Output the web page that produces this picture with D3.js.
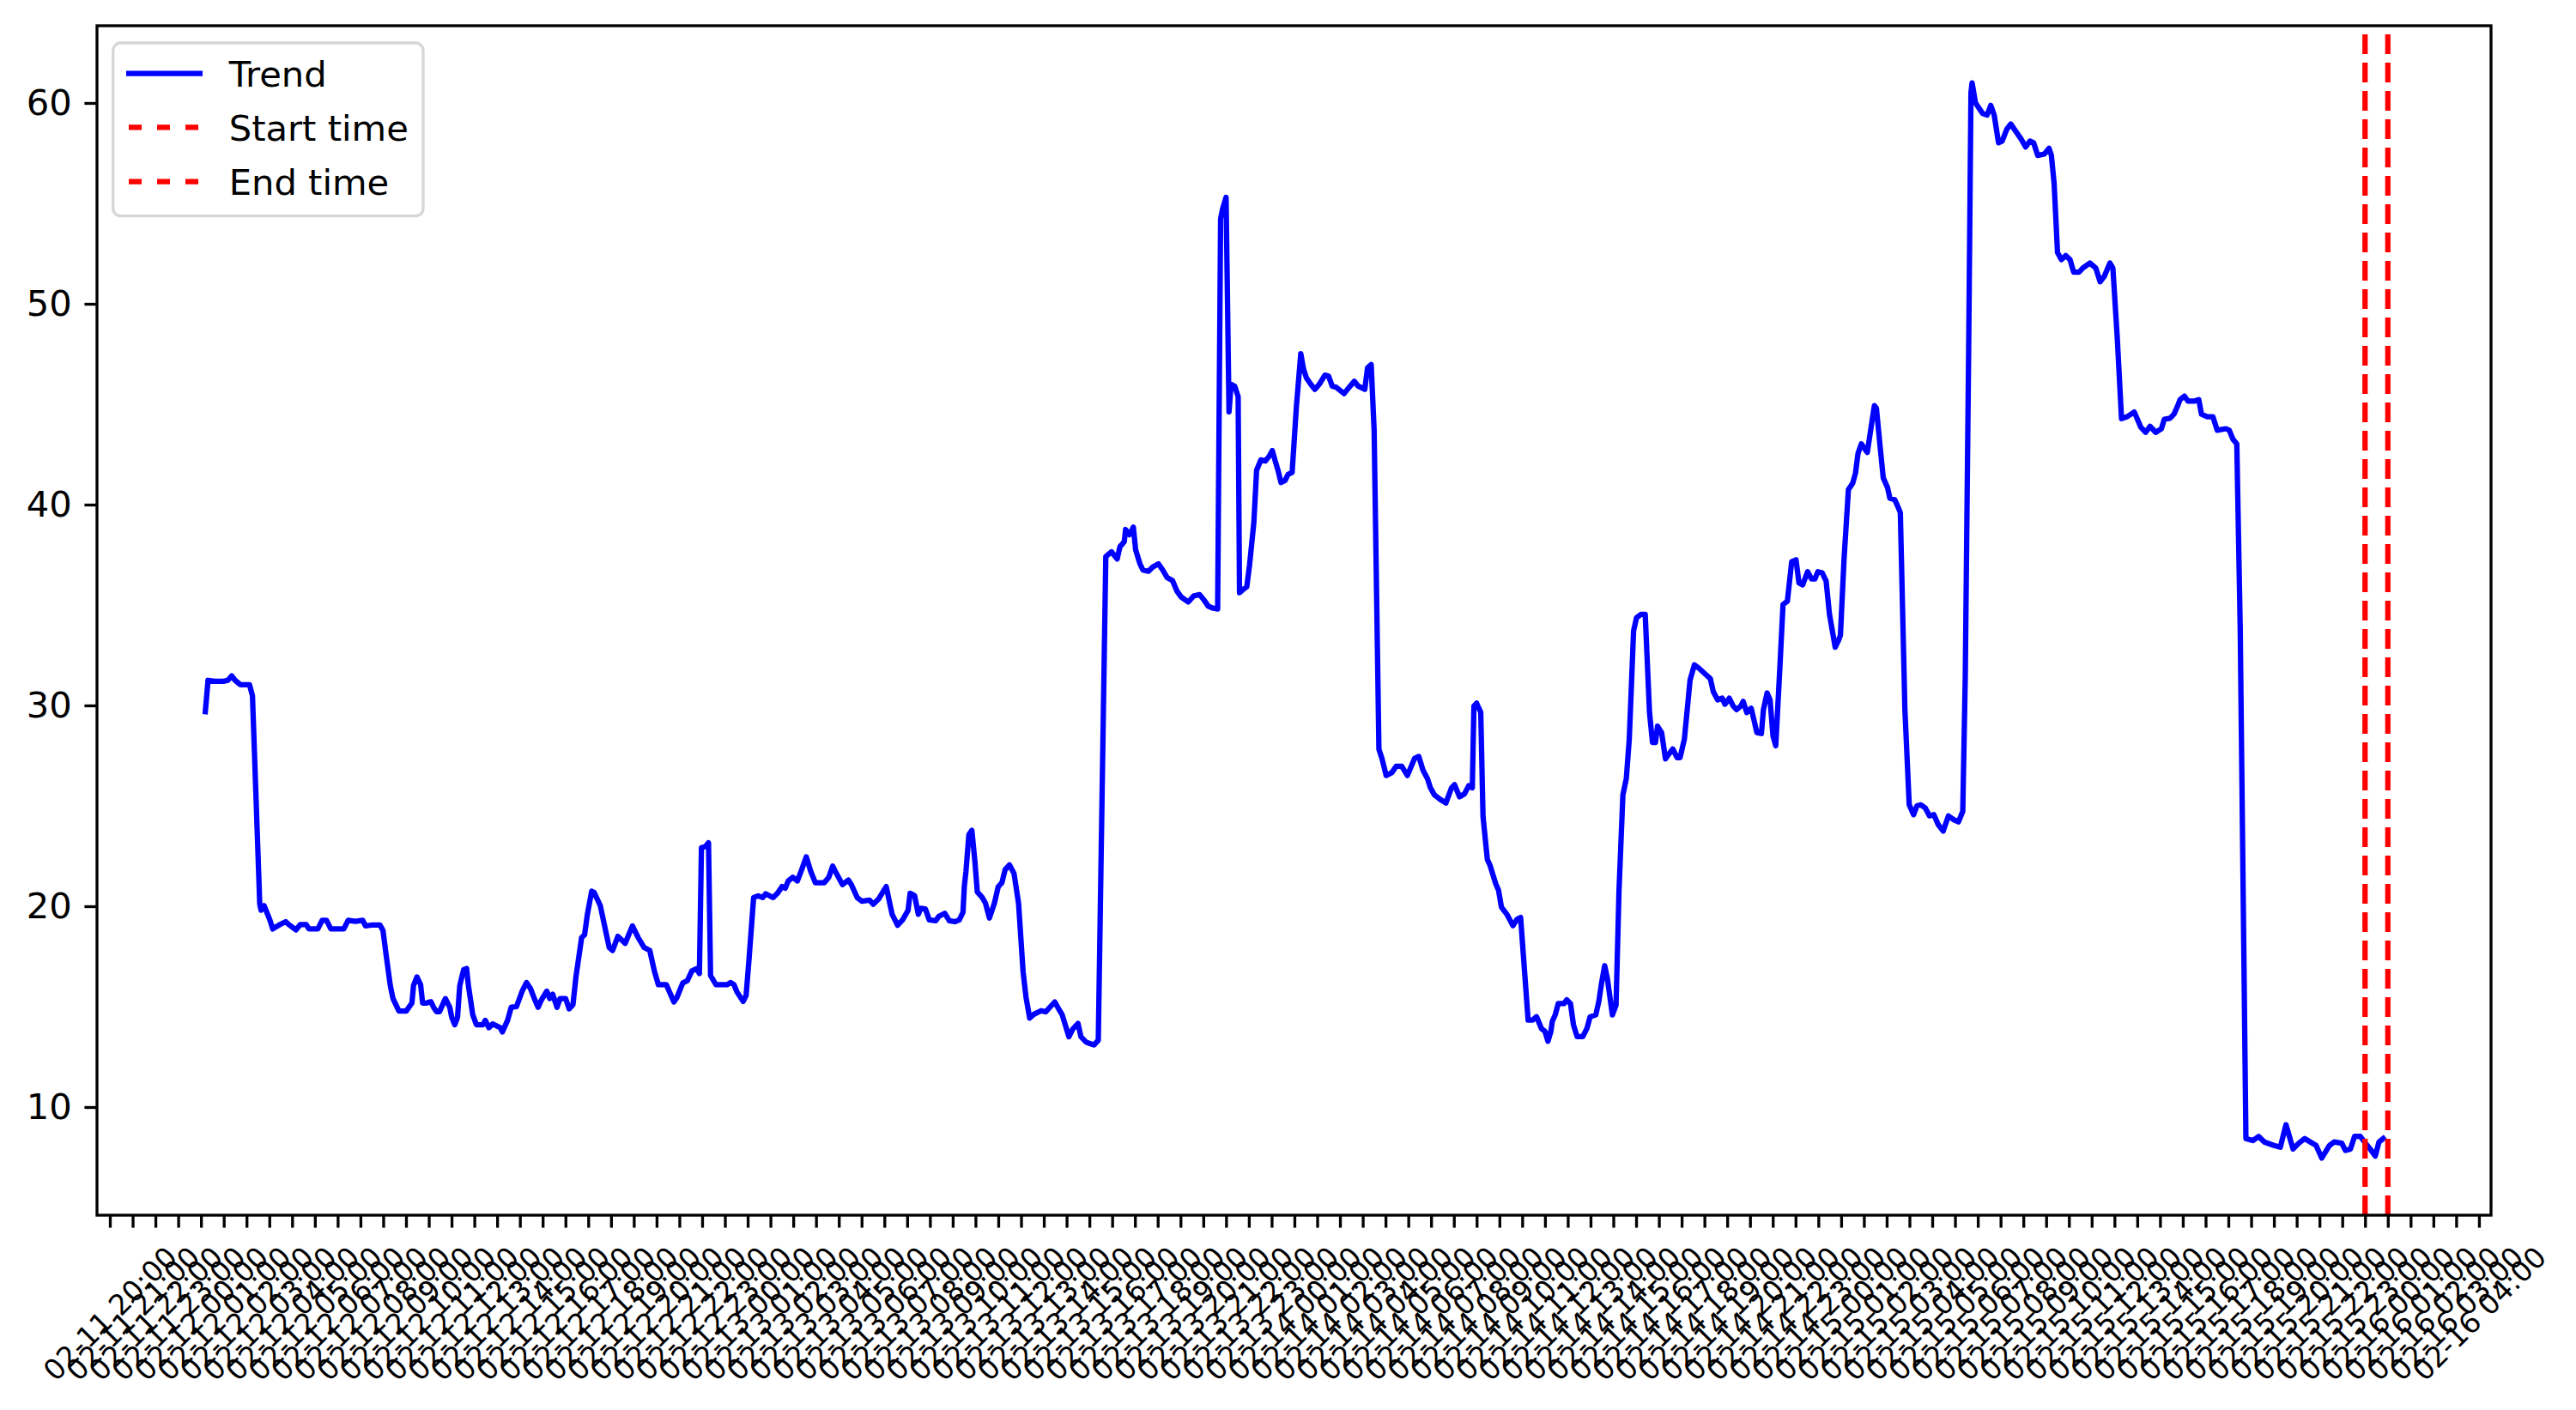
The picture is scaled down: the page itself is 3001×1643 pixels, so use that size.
<!DOCTYPE html>
<html>
<head>
<meta charset="utf-8">
<script src="https://cdn.jsdelivr.net/npm/d3@7"></script>
<style>
  body { margin: 0; background: #fff; }
  svg { display: block; }
  text { font-family: "DejaVu Sans", sans-serif; fill: #000; }
</style>
</head>
<body>
<svg id="chart"></svg>
<script>
// === Data ===
// hours after the first tick (02-11 20:00)
const trendHours = [
  4.19,4.31,4.61,4.99,5.18,5.35,5.50,5.73,6.13,6.26,
  6.58,6.64,6.77,7.03,7.15,7.47,7.72,7.85,8.17,8.36,
  8.62,8.74,9.13,9.32,9.51,9.70,10.27,10.46,10.78,11.10,
  11.22,11.48,11.86,11.99,12.12,12.31,12.43,12.69,13.01,13.26,
  13.33,13.48,13.64,13.73,13.9,14.09,14.21,14.34,14.47,14.73,
  14.92,15.01,15.14,15.26,15.36,15.53,15.66,15.74,15.93,16.09,
  16.38,16.48,16.64,16.8,17.14,17.23,17.46,17.62,17.85,18.1,
  18.29,18.46,18.61,18.8,18.93,19.18,19.31,19.44,19.63,19.76,
  20.01,20.16,20.33,20.46,20.59,20.71,20.84,20.96,21.15,21.26,
  21.53,21.92,22.07,22.3,22.62,22.94,23.19,23.45,23.7,23.92,
  24.08,24.43,24.76,24.89,25.15,25.35,25.55,25.75,25.88,25.97,
  26.14,26.28,26.37,26.61,27.1,27.25,27.4,27.53,27.8,27.93,
  28.06,28.26,28.46,28.66,28.79,29.12,29.32,29.51,29.65,29.78,
  29.98,30.18,30.37,30.57,30.77,30.97,31.36,31.56,31.73,31.89,
  32.16,32.42,32.55,32.81,33.01,33.35,33.51,33.74,34.08,34.34,
  34.58,34.8,35.04,35.13,35.33,35.49,35.6,35.8,35.97,36.26,
  36.39,36.65,36.85,37.11,37.29,37.45,37.51,37.58,37.71,37.84,
  37.97,38.08,38.3,38.44,38.61,38.83,39.0,39.16,39.3,39.49,
  39.69,39.89,40.09,40.22,40.38,40.55,40.88,41.08,41.28,41.48,
  41.65,41.8,42.0,42.1,42.27,42.5,42.63,42.86,43.2,43.39,
  43.72,43.97,44.22,44.34,44.53,44.59,44.76,44.93,45.03,45.22,
  45.35,45.59,45.78,46.03,46.22,46.41,46.65,46.84,47.03,47.34,
  47.59,47.84,48.03,48.22,48.41,48.63,48.76,48.84,49.0,49.13,
  49.22,49.38,49.53,49.59,49.78,49.91,50.03,50.22,50.34,50.53,
  50.72,50.9,51.03,51.15,51.28,51.41,51.59,51.72,51.9,52.09,
  52.28,52.4,52.53,52.72,52.9,53.09,53.34,53.5,53.66,53.84,
  54.18,54.4,54.63,54.8,55.09,55.21,55.37,55.5,55.71,55.84,
  56.03,56.28,56.47,56.71,56.96,57.28,57.46,57.65,57.84,57.97,
  58.15,58.4,58.65,58.9,59.03,59.25,59.47,59.65,59.81,59.88,
  60.0,60.18,60.28,60.47,60.59,60.84,60.96,61.09,61.34,61.59,
  61.78,61.93,62.26,62.46,62.63,62.85,63.0,63.13,63.26,63.32,
  63.45,63.58,63.83,63.96,64.12,64.25,64.41,64.66,64.85,64.98,
  65.23,65.36,65.49,65.62,65.74,65.96,66.12,66.25,66.42,66.57,
  66.7,66.89,67.02,67.21,67.4,67.59,67.72,67.85,67.94,68.12,
  68.29,68.42,68.61,68.8,68.93,69.12,69.37,69.56,69.75,70.07,
  70.26,70.39,70.58,70.78,70.9,71.09,71.26,71.41,71.6,71.7,
  71.86,72.05,72.17,72.3,72.5,72.59,72.75,72.88,73.01,73.13,
  73.32,73.45,73.64,73.83,74.02,74.15,74.31,74.53,74.7,74.85,
  74.98,75.17,75.34,75.49,75.74,75.87,75.97,76.13,76.32,76.51,
  76.63,76.74,76.89,77.02,77.15,77.46,77.55,77.72,77.85,78.04,
  78.14,78.35,78.48,78.6,78.8,78.99,79.18,79.33,79.5,79.69,
  79.88,80.07,80.26,80.48,80.71,80.96,81.15,81.34,81.45,81.6,
  81.7,81.75,81.9,82.22,82.41,82.57,82.72,82.91,83.07,83.28,
  83.45,83.66,83.91,84.1,84.29,84.45,84.63,84.92,85.13,85.23,
  85.35,85.5,85.67,85.86,86.05,86.21,86.45,86.61,86.92,87.18,
  87.37,87.55,87.8,87.93,88.12,88.31,88.56,88.87,89.16,89.37,
  89.56,89.81,90.06,90.19,90.44,90.61,90.76,90.88,91.07,91.23,
  91.5,91.7,91.82,92.07,92.32,92.51,92.89,93.04,93.2,93.37,
  93.52,93.77,94.08,94.33,94.58,95.0,95.28,95.53,95.84,96.09,
  96.35,96.6,96.85,97.1,97.44,97.64,97.98,98.14,98.36,98.54,
  98.79,99.02,99.23,99.45,99.61,99.8
];

const trendValues = [
  29.69,31.25,31.2,31.2,31.25,31.47,31.25,31.03,31.03,30.48,
  20.09,19.8,20.03,19.3,18.87,19.09,19.23,19.09,18.82,19.09,
  19.09,18.87,18.87,19.3,19.3,18.87,18.87,19.3,19.25,19.3,
  19.02,19.06,19.06,18.79,17.64,16.05,15.4,14.78,14.78,15.18,
  16.05,16.48,16.1,15.18,15.18,15.25,14.97,14.75,14.75,15.4,
  14.97,14.46,14.1,14.46,16.05,16.84,16.9,16.05,14.6,14.1,
  14.1,14.32,13.95,14.14,13.95,13.74,14.32,14.97,15.0,15.77,
  16.2,15.91,15.47,14.97,15.3,15.77,15.4,15.62,14.97,15.4,
  15.4,14.89,15.1,16.48,17.5,18.44,18.58,19.58,20.75,20.68,
  20.03,17.94,17.8,18.5,18.15,19.02,18.44,17.95,17.8,16.7,
  16.09,16.09,15.23,15.45,16.18,16.29,16.78,16.89,16.65,22.92,
  22.97,23.16,16.55,16.09,16.09,16.2,16.09,15.73,15.26,15.55,
  17.38,20.43,20.52,20.43,20.62,20.43,20.66,20.98,20.9,21.26,
  21.44,21.26,21.82,22.46,21.73,21.17,21.17,21.44,22.0,21.64,
  21.08,21.3,21.08,20.43,20.25,20.3,20.1,20.35,20.98,19.6,
  19.05,19.32,19.8,20.65,20.52,19.6,19.9,19.87,19.32,19.28,
  19.5,19.65,19.28,19.23,19.32,19.69,20.99,21.72,23.57,23.78,
  22.28,20.71,20.43,20.15,19.41,20.15,20.98,21.17,21.82,22.06,
  21.64,20.15,16.74,15.45,14.43,14.61,14.8,14.74,14.99,15.23,
  14.89,14.61,13.88,13.5,13.88,14.16,13.5,13.23,13.09,13.33,
  37.41,37.65,37.29,37.9,38.15,38.76,38.5,38.88,37.75,37.05,
  36.74,36.68,36.89,37.05,36.74,36.37,36.22,35.7,35.4,35.15,
  35.46,35.52,35.25,34.94,34.85,34.8,54.23,54.69,55.3,44.62,
  45.99,45.9,45.38,35.61,35.8,35.91,36.98,39.12,41.71,42.23,
  42.17,42.42,42.69,42.2,41.71,41.1,41.2,41.5,41.6,44.92,
  47.52,46.75,46.3,45.99,45.74,45.99,46.45,46.4,45.9,45.84,
  45.53,45.84,46.14,45.9,45.74,46.81,46.97,43.7,27.82,27.37,
  26.51,26.66,26.97,26.97,26.51,27.37,27.46,26.76,26.36,25.9,
  25.54,25.32,25.14,25.9,26.05,25.45,25.6,26.0,25.9,29.96,
  30.11,29.66,24.47,22.33,22.03,21.11,20.8,19.95,19.58,19.03,
  19.36,19.44,14.33,14.33,14.5,13.9,13.77,13.28,13.77,14.26,
  14.59,15.15,15.15,15.34,15.15,14.1,13.51,13.51,13.94,14.49,
  14.59,15.24,16.22,17.04,16.39,14.59,15.08,20.8,25.54,26.36,
  28.32,33.72,34.37,34.53,34.53,29.63,28.16,28.16,28.97,28.65,
  27.34,27.55,27.83,27.4,27.4,28.32,31.27,32.02,31.86,31.53,
  31.33,30.68,30.28,30.36,30.06,30.36,29.97,29.79,29.97,30.2,
  29.65,29.86,29.3,28.65,28.6,29.79,30.62,30.28,28.48,27.99,
  32.08,35.02,35.19,37.15,37.25,36.1,36.0,36.66,36.3,36.3,
  36.66,36.6,36.2,34.53,32.9,33.2,33.5,37.31,40.75,41.07,
  41.56,42.54,43.03,42.8,42.6,44.93,44.8,42.8,41.33,40.84,
  40.32,40.25,39.93,39.6,29.79,25.05,24.56,25.0,25.05,24.9,
  24.5,24.56,24.07,23.74,24.5,24.3,24.2,24.72,31.43,47.78,
  60.52,61.0,60.0,59.47,59.4,59.88,59.4,58.02,58.1,58.71,
  58.95,58.6,58.19,57.81,58.1,58.02,57.39,57.46,57.74,57.39,
  56.01,52.55,52.2,52.4,52.2,51.58,51.58,51.78,52.03,51.78,
  51.1,51.36,52.03,51.78,48.36,44.28,44.38,44.61,43.85,43.6,
  43.9,43.6,43.78,44.25,44.3,44.5,44.88,45.23,45.4,45.15,
  45.15,45.23,44.5,44.38,44.38,43.7,43.78,43.7,43.26,43.02,
  33.85,8.43,8.33,8.54,8.26,8.09,8.0,9.12,7.91,8.2,
  8.43,8.26,8.09,7.46,8.09,8.26,8.2,7.84,7.91,8.54,
  8.54,8.2,7.91,7.56,8.26,8.43
];

const firstTick = "2024-02-11 20:00";
const lastTick = "2024-02-16 04:00";
const startTime = "2024-02-15 23:00";
const endTime = "2024-02-16 00:00";
const yTicks = [10, 20, 30, 40, 50, 60];
const legendLabels = ["Trend", "Start time", "End time"];

// === Layout ===
const W = 3001, H = 1643;
const plot = { left: 113, right: 2902, top: 30, bottom: 1416 };
const pt = 300 / 72;               // px per point at 300 dpi
const tickLen = 3.5 * pt, tickPad = 3.5 * pt, axisLw = 0.8 * pt, lineLw = 1.5 * pt;

const parse = d3.timeParse("%Y-%m-%d %H:%M");
const t0 = parse(firstTick);
const hour = 3600 * 1000;
const data = trendHours.map((h, i) => ({ t: new Date(+t0 + h * hour), v: trendValues[i] }));

const svg = d3.select("#chart").attr("width", W).attr("height", H);
svg.append("rect").attr("width", W).attr("height", H).attr("fill", "#fff");

const x = d3.scaleTime()
  .domain([new Date(+t0 - 0.565 * hour), new Date(+t0 + 104.53 * hour)])
  .range([plot.left, plot.right]);
const y = d3.scaleLinear().domain([4.615, 63.846]).range([plot.bottom, plot.top]);

// trend line
const line = d3.line().x(d => x(d.t)).y(d => y(d.v));
svg.append("path").datum(data)
  .attr("fill", "none").attr("stroke", "#0000ff").attr("stroke-width", lineLw)
  .attr("stroke-linejoin", "round").attr("stroke-linecap", "square")
  .attr("d", line);

// start / end markers
[startTime, endTime].forEach(s => {
  const xv = x(parse(s));
  svg.append("line")
    .attr("x1", xv).attr("x2", xv).attr("y1", plot.bottom).attr("y2", plot.top)
    .attr("stroke", "#ff0000").attr("stroke-width", lineLw)
    .attr("stroke-dasharray", "23,10");
});

// frame
svg.append("rect")
  .attr("x", plot.left).attr("y", plot.top)
  .attr("width", plot.right - plot.left).attr("height", plot.bottom - plot.top)
  .attr("fill", "none").attr("stroke", "#000").attr("stroke-width", axisLw);

// y axis
const gy = svg.append("g").attr("transform", `translate(${plot.left},0)`)
  .call(d3.axisLeft(y).tickValues(yTicks).tickSize(tickLen).tickPadding(tickPad));
gy.select(".domain").remove();
gy.selectAll(".tick line").attr("stroke", "#000").attr("stroke-width", axisLw);
gy.selectAll(".tick text").style("font-size", (10 * pt) + "px")
  .style("font-family", "DejaVu Sans");

// x axis, one tick per hour
const hourTicks = d3.timeHour.range(t0, new Date(+parse(lastTick) + 1));
const gx = svg.append("g").attr("transform", `translate(0,${plot.bottom})`)
  .call(d3.axisBottom(x).tickValues(hourTicks).tickSize(tickLen)
    .tickFormat(d3.timeFormat("%m-%d %H:%M")));
gx.select(".domain").remove();
gx.selectAll(".tick line").attr("stroke", "#000").attr("stroke-width", axisLw);
const xFont = 8 * pt;
gx.selectAll(".tick text")
  .style("font-size", xFont + "px").style("font-family", "DejaVu Sans")
  .attr("text-anchor", "middle").attr("dominant-baseline", "central")
  .attr("x", 0).attr("y", 0).attr("dy", null)
  .each(function () {
    const w = this.getComputedTextLength();
    const hgt = xFont * 1.17;
    const yc = tickLen + tickPad + (w + hgt) * Math.SQRT1_2 / 2;
    d3.select(this).attr("transform", `translate(0,${yc}) rotate(-45)`);
  });

// legend
const lg = svg.append("g");
lg.append("rect")
  .attr("x", 131.7).attr("y", 50).attr("width", 361.3).attr("height", 201.7)
  .attr("rx", 9).attr("fill", "#fff").attr("fill-opacity", 0.8)
  .attr("stroke", "#d6d6d6").attr("stroke-width", axisLw);
const rows = [85.7, 148.3, 211.7];
const styles = [
  { color: "#0000ff", dash: null },
  { color: "#ff0000", dash: "15,18" },
  { color: "#ff0000", dash: "15,18" }
];
legendLabels.forEach((lab, i) => {
  lg.append("line")
    .attr("x1", i === 0 ? 147 : 150).attr("x2", i === 0 ? 236 : 233)
    .attr("y1", rows[i]).attr("y2", rows[i])
    .attr("stroke", styles[i].color).attr("stroke-width", lineLw)
    .attr("stroke-dasharray", styles[i].dash);
  lg.append("text")
    .attr("x", 266.7).attr("y", rows[i] + 15.3)
    .style("font-size", (10 * pt) + "px")
    .text(lab);
});
</script>
</body>
</html>
